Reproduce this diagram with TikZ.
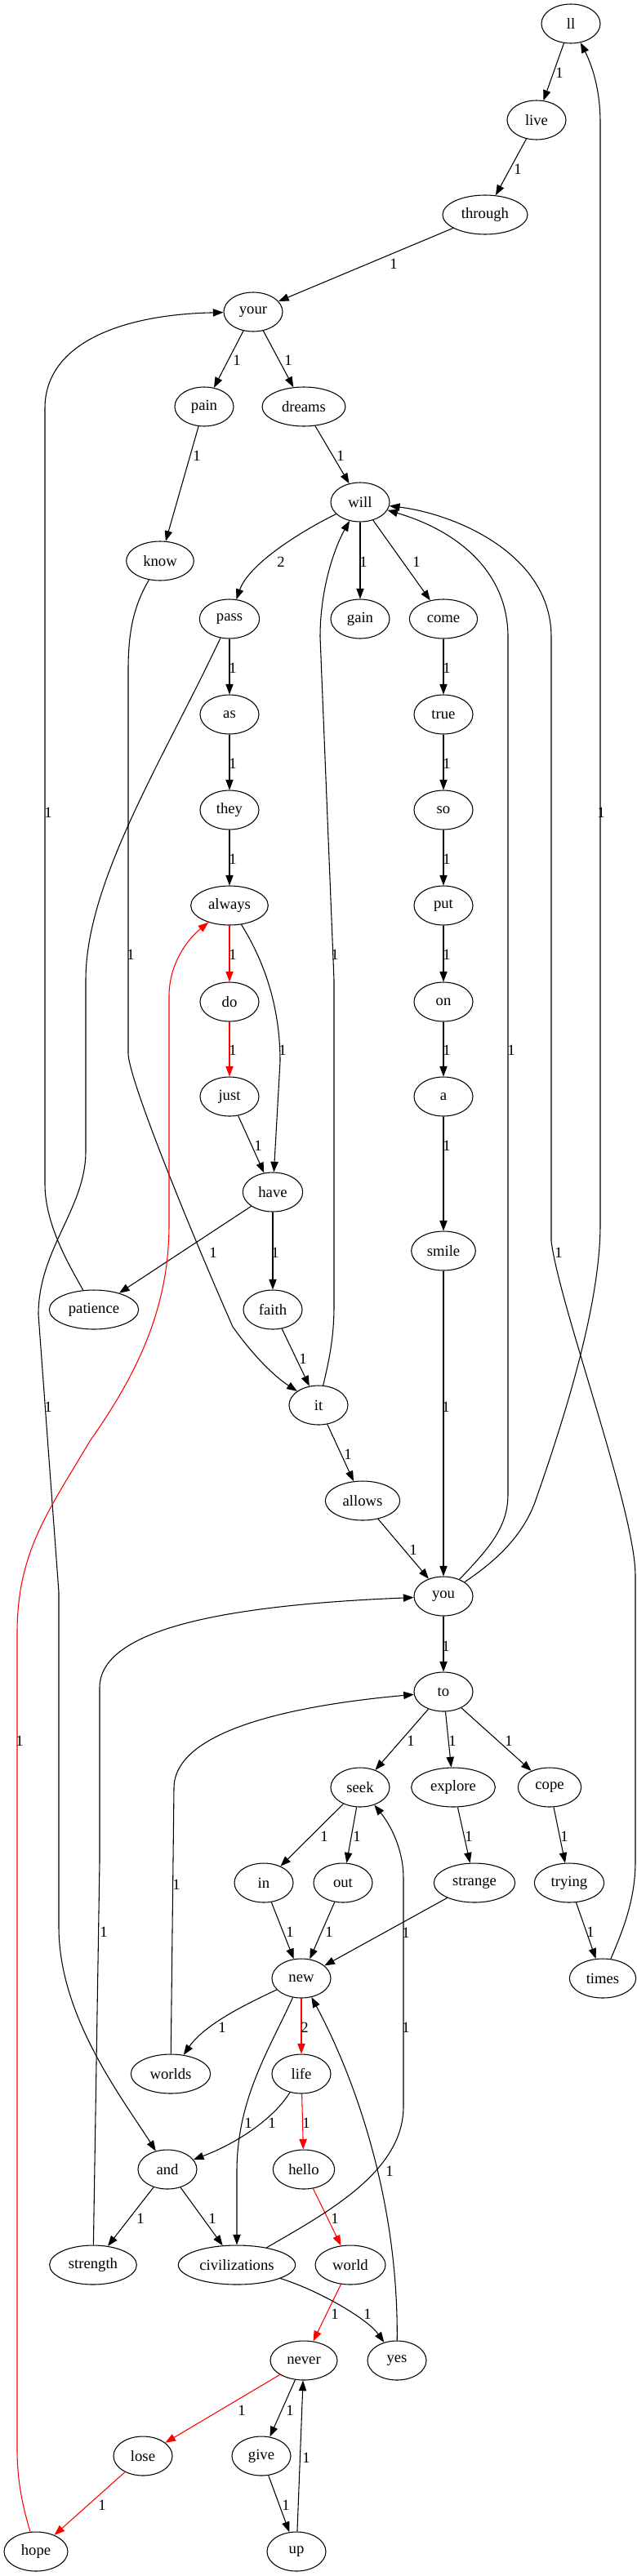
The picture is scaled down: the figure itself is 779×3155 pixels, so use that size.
\documentclass[tikz,border=0pt]{standalone}
\usepackage{fontspec}
\setmainfont{Liberation Serif}
\usetikzlibrary{shapes.geometric,arrows.meta}

\begin{document}
\begin{tikzpicture}[x=0.75pt,y=-0.75pt,
  word/.style={draw,ellipse,line width=0.8pt,minimum width=#1,minimum height=36pt,
               inner sep=0pt,font=\fontsize{14}{16}\selectfont},
  word/.default=54pt,
  arrow/.style={-{Triangle[length=9.5pt,width=7pt]},line width=0.8pt},
  hot/.style={arrow,red},
  num/.style={inner sep=0pt,text=black,font=\fontsize{14}{16}\selectfont}
]
\useasboundingbox (0,0) rectangle (779,3155);

% words, row by row
\node[word] (ll) at (699,29) {ll};
\node[word] (live) at (657,147) {live};
\node[word=78pt] (through) at (594,263) {through};
\node[word] (your) at (310,382) {your};
\node[word] (pain) at (250,498) {pain};
\node[word=76.5pt] (dreams) at (372,498) {dreams};
\node[word] (will) at (441,615) {will};
\node[word=62pt] (know) at (196,687) {know};
\node[word=55pt] (pass) at (281,758) {pass};
\node[word] (gain) at (441,758) {gain};
\node[word=62.5pt] (come) at (543,758) {come};
\node[word] (as) at (281,875) {as};
\node[word] (true) at (543,875) {true};
\node[word] (they) at (281,992) {they};
\node[word] (so) at (543,992) {so};
\node[word=71pt] (always) at (281,1109) {always};
\node[word] (put) at (543,1109) {put};
\node[word] (do) at (281,1227) {do};
\node[word] (on) at (543,1227) {on};
\node[word] (just) at (281,1343) {just};
\node[word] (a) at (543,1343) {a};
\node[word=55pt] (have) at (334,1460) {have};
\node[word=59pt] (smile) at (543,1532) {smile};
\node[word=82pt] (patience) at (115,1604) {patience};
\node[word] (faith) at (334,1604) {faith};
\node[word] (it) at (390,1721) {it};
\node[word=68.5pt] (allows) at (444,1838) {allows};
\node[word] (you) at (543,1955) {you};
\node[word] (to) at (543,2072) {to};
\node[word] (seek) at (441,2189) {seek};
\node[word=77pt] (explore) at (555,2189) {explore};
\node[word=58pt] (cope) at (673,2189) {cope};
\node[word] (in) at (323,2306) {in};
\node[word] (out) at (420,2306) {out};
\node[word=74.5pt] (strange) at (581,2306) {strange};
\node[word=64pt] (trying) at (697,2306) {trying};
\node[word] (new) at (369,2423) {new};
\node[word=61pt] (times) at (738,2423) {times};
\node[word=73pt] (worlds) at (209,2540) {worlds};
\node[word] (life) at (369,2540) {life};
\node[word] (and) at (205,2657) {and};
\node[word=56.5pt] (hello) at (372,2657) {hello};
\node[word=80pt] (strength) at (114,2774) {strength};
\node[word=107.5pt] (civ) at (290,2774) {civilizations};
\node[word=64.5pt] (world) at (429,2774) {world};
\node[word=61.5pt] (never) at (372,2891) {never};
\node[word] (yes) at (486,2891) {yes};
\node[word] (lose) at (175,3008) {lose};
\node[word] (give) at (320,3008) {give};
\node[word=58.5pt] (hope) at (44,3125) {hope};
\node[word] (up) at (363,3125) {up};

% short edges
\draw[arrow] (ll) -- (live) node[num] at (685,89) {1};
\draw[arrow] (live) -- (through) node[num] at (634,207) {1};
\draw[arrow] (through) -- (your) node[num] at (482,323) {1};
\draw[arrow] (your) -- (pain) node[num] at (290,441) {1};
\draw[arrow] (your) -- (dreams) node[num] at (353,441) {1};
\draw[arrow] (pain) -- (know) node[num] at (241,558) {1};
\draw[arrow] (dreams) -- (will) node[num] at (417,558) {1};
\draw[arrow] (will) .. controls (370,650) and (305,690) .. (pass) node[num] at (344,688) {2};
\draw[arrow] (will) -- (gain) node[num] at (445,688) {1};
\draw[arrow] (will) -- (come) node[num] at (510,688) {1};
\draw[arrow] (pass) -- (as) node[num] at (285,818) {1};
\draw[arrow] (as) -- (they) node[num] at (285,935) {1};
\draw[arrow] (they) -- (always) node[num] at (285,1052) {1};
\draw[hot] (always) -- (do) node[num] at (285,1169) {1};
\draw[hot] (do) -- (just) node[num] at (285,1286) {1};
\draw[arrow] (just) -- (have) node[num] at (316,1403) {1};
\draw[arrow] (always) .. controls (322,1175) and (343,1230) .. (343,1300) -- (have)
  node[num] at (346,1286) {1};
\draw[arrow] (come) -- (true) node[num] at (547,818) {1};
\draw[arrow] (true) -- (so) node[num] at (547,935) {1};
\draw[arrow] (so) -- (put) node[num] at (547,1052) {1};
\draw[arrow] (put) -- (on) node[num] at (547,1169) {1};
\draw[arrow] (on) -- (a) node[num] at (547,1286) {1};
\draw[arrow] (a) -- (smile) node[num] at (547,1403) {1};
\draw[arrow] (have) -- (patience) node[num] at (261,1534) {1};
\draw[arrow] (have) -- (faith) node[num] at (337,1534) {1};
\draw[arrow] (faith) -- (it) node[num] at (371,1664) {1};
\draw[arrow] (it) -- (allows) node[num] at (426,1781) {1};
\draw[arrow] (allows) -- (you) node[num] at (506,1898) {1};
\draw[arrow] (smile) -- (you) node[num] at (546,1723) {1};
\draw[arrow] (you) -- (to) node[num] at (546,2016) {1};
\draw[arrow] (to) -- (seek) node[num] at (503,2132) {1};
\draw[arrow] (to) -- (explore) node[num] at (554,2132) {1};
\draw[arrow] (to) -- (cope) node[num] at (623,2132) {1};
\draw[arrow] (seek) -- (in) node[num] at (397,2249) {1};
\draw[arrow] (seek) -- (out) node[num] at (437,2249) {1};
\draw[arrow] (explore) -- (strange) node[num] at (574,2249) {1};
\draw[arrow] (cope) -- (trying) node[num] at (691,2249) {1};
\draw[arrow] (in) -- (new) node[num] at (355,2366) {1};
\draw[arrow] (out) -- (new) node[num] at (403,2366) {1};
\draw[arrow] (strange) -- (new) node[num] at (497,2367) {1};
\draw[arrow] (trying) -- (times) node[num] at (723,2366) {1};
\draw[arrow] (new) .. controls (300,2455) and (250,2480) .. (worlds) node[num] at (272,2483) {1};
\draw[hot] (new) -- (life) node[num] at (373,2483) {2};
\draw[arrow] (new) .. controls (330,2510) and (290,2570) .. (290,2660) -- (civ)
  node[num] at (304,2600) {1};
\draw[arrow] (life) .. controls (335,2595) and (290,2625) .. (and) node[num] at (333,2600) {1};
\draw[hot] (life) -- (hello) node[num] at (375,2600) {1};
\draw[arrow] (and) -- (strength) node[num] at (172,2717) {1};
\draw[arrow] (and) -- (civ) node[num] at (260,2717) {1};
\draw[hot] (hello) -- (world) node[num] at (410,2717) {1};
\draw[hot] (world) -- (never) node[num] at (410,2834) {1};
\draw[arrow] (civ) .. controls (390,2805) and (450,2840) .. (yes) node[num] at (450,2834) {1};
\draw[arrow] (yes) .. controls (488,2690) and (432,2540) .. (new) node[num] at (477,2659) {1};
\draw[hot] (never) -- (lose) node[num] at (296,2952) {1};
\draw[arrow] (never) -- (give) node[num] at (355,2952) {1};
\draw[arrow] (up) -- (never) node[num] at (375,3010) {1};
\draw[hot] (lose) -- (hope) node[num] at (125,3068) {1};
\draw[arrow] (give) -- (up) node[num] at (350,3068) {1};

% long edges
\draw[arrow] (patience) .. controls (85,1550) and (55,1500) .. (55,1450) -- (55,500)
  .. controls (55,420) and (150,385) .. (your) node[num] at (59,995) {1};
\draw[arrow] (pass) .. controls (200,930) and (105,1080) .. (105,1200) -- (105,1410)
  .. controls (105,1480) and (47,1530) .. (47,1610) -- (72,1950) -- (72,2360)
  .. controls (72,2470) and (150,2570) .. (and) node[num] at (59,1723) {1};
\draw[arrow] (know) .. controls (165,740) and (157,770) .. (157,820) -- (157,1290)
  .. controls (157,1320) and (230,1500) .. (285,1625)
  .. controls (310,1660) and (335,1685) .. (it) node[num] at (160,1169) {1};
\draw[arrow] (it) .. controls (402,1670) and (409,1640) .. (409,1600) -- (409,1200)
  -- (392,780) .. controls (392,720) and (410,670) .. (will) node[num] at (410,1169) {1};
\draw[arrow] (you) .. controls (600,1895) and (622,1870) .. (622,1830) -- (622,780)
  .. controls (622,700) and (560,650) .. (will) node[num] at (626,1286) {1};
\draw[arrow] (you) .. controls (610,1910) and (640,1880) .. (655,1840)
  .. controls (690,1740) and (735,1600) .. (735,1500) -- (735,150)
  .. controls (735,110) and (725,80) .. (ll) node[num] at (736,995) {1};
\draw[arrow] (times) .. controls (760,2370) and (778,2330) .. (778,2280) -- (778,1930)
  .. controls (778,1850) and (685,1600) .. (675,1520) -- (675,780)
  .. controls (675,680) and (560,630) .. (will) node[num] at (684,1534) {1};
\draw[arrow] (strength) -- (122,2280) -- (122,2067) .. controls (122,1990) and (300,1965) .. (you)
  node[num] at (127,2366) {1};
\draw[arrow] (worlds) -- (213,2190) .. controls (213,2110) and (400,2085) .. (to)
  node[num] at (216,2308) {1};
\draw[arrow] (civ) .. controls (400,2710) and (494,2660) .. (494,2580) -- (494,2300)
  .. controls (494,2270) and (482,2240) .. (seek) node[num] at (497,2483) {1};
\draw[hot] (hope) .. controls (28,3070) and (21,3040) .. (21,3000) -- (21,2000)
  .. controls (21,1900) and (60,1850) .. (110,1765)
  .. controls (170,1680) and (207,1600) .. (207,1500) -- (207,1220)
  .. controls (207,1180) and (230,1150) .. (always) node[num] at (24,2132) {1};
\end{tikzpicture}
\end{document}
